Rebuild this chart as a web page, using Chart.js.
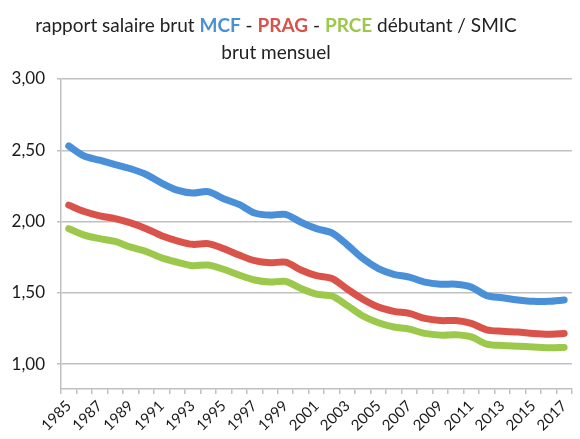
<!DOCTYPE html>
<html><head><meta charset="utf-8">
<script src="https://cdn.jsdelivr.net/npm/chart.js@4"></script>
<style>
html,body{margin:0;padding:0;background:#fff;}
#wrap{position:relative;width:580px;height:439px;}
#title{position:absolute;left:0;top:11px;width:552px;text-align:center;font-family:Lato,"Open Sans",sans-serif;font-size:19px;line-height:27px;color:#222;}
#title b.m{color:#4a90d9}#title b.p{color:#d9534a}#title b.c{color:#9cc94c}
canvas{position:absolute;left:0;top:0;}
</style></head><body>
<div id="wrap">
<canvas id="c" width="580" height="439"></canvas>
<div id="title">rapport salaire brut <b class="m">MCF</b> - <b class="p">PRAG</b> - <b class="c">PRCE</b> débutant / SMIC<br>brut mensuel</div>
</div>
<script>
const years = [];
for (let y = 1985; y <= 2017; y++) years.push(String(y));
const mcf  = [2.53,2.46,2.43,2.40,2.37,2.33,2.27,2.22,2.20,2.21,2.16,2.12,2.06,2.045,2.05,1.995,1.95,1.92,1.835,1.74,1.67,1.63,1.61,1.575,1.56,1.56,1.54,1.48,1.465,1.45,1.44,1.44,1.45];
const prag = [2.115,2.07,2.04,2.02,1.99,1.95,1.90,1.865,1.84,1.845,1.81,1.765,1.725,1.71,1.715,1.66,1.62,1.60,1.525,1.455,1.40,1.37,1.355,1.32,1.305,1.305,1.285,1.24,1.23,1.225,1.215,1.21,1.215];
const prce = [1.95,1.905,1.88,1.86,1.82,1.79,1.745,1.715,1.69,1.695,1.665,1.625,1.59,1.575,1.58,1.53,1.49,1.477,1.41,1.337,1.29,1.26,1.245,1.215,1.203,1.205,1.19,1.14,1.13,1.125,1.12,1.115,1.117];
const yTicks = [1.0,1.5,2.0,2.5,3.0];

const mk = (data,color)=>({data,borderColor:color,backgroundColor:color,borderWidth:7,pointRadius:0,tension:0.3,borderCapStyle:'round',borderJoinStyle:'round',fill:false});
new Chart(document.getElementById('c'),{
  type:'line',
  data:{labels:years,datasets:[mk(mcf,'#4a90d9'),mk(prag,'#d9534a'),mk(prce,'#9cc94c')]},
  options:{
    responsive:false,animation:false,
    layout:{padding:{top:79,right:7,left:0,bottom:0}},
    plugins:{legend:{display:false},tooltip:{enabled:false},title:{display:false}},
    scales:{
      y:{min:0.825,max:3.0,
        afterBuildTicks:s=>{s.ticks=yTicks.map(v=>({value:v}));},
        afterFit:s=>{s.width=61;},
        ticks:{callback:v=>v.toFixed(2).replace('.',','),font:{family:'Lato',size:17},color:'#1a1a1a',padding:12},
        grid:{color:'#c0c0c0',lineWidth:1.5,tickLength:4},
        border:{color:'#c0c0c0',width:1.5}
      },
      x:{offset:true,
        afterFit:s=>{s.height=50;},
        ticks:{autoSkip:false,maxRotation:45,minRotation:45,font:{family:'Lato',size:15},color:'#1a1a1a',padding:3,
          callback:function(v,i){return i%2===0?this.getLabelForValue(v):'';}},
        grid:{offset:true,drawOnChartArea:false,color:'#c0c0c0',lineWidth:1.5,tickLength:5},
        border:{color:'#c0c0c0',width:1.5}
      }
    }
  }
});
</script>
</body></html>
